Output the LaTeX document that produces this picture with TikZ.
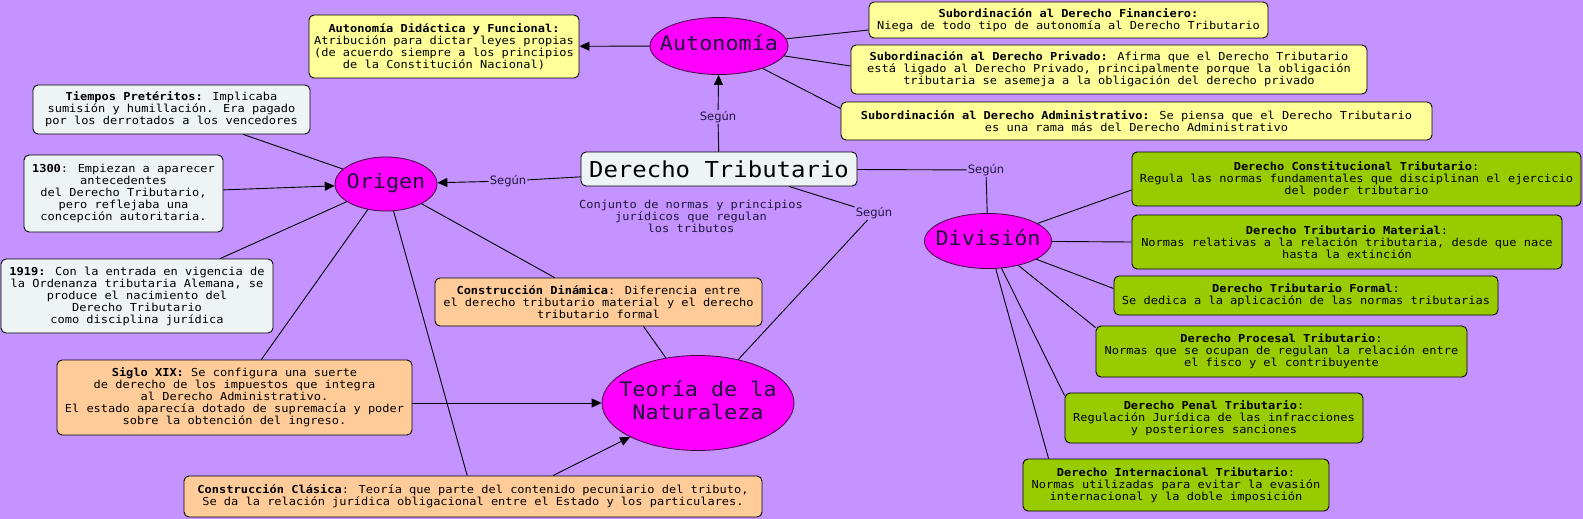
\documentclass[tikz,border=0pt]{standalone}
\usepackage{fontspec}
\setmainfont[FakeStretch=1.09]{DejaVu Sans Mono}
\newfontfamily\segfont{DejaVu Sans}
\usetikzlibrary{shapes.geometric,arrows.meta,calc}
\definecolor{bg}{RGB}{196,147,255}
\definecolor{mag}{RGB}{255,0,255}
\definecolor{yel}{RGB}{255,255,153}
\definecolor{pale}{RGB}{238,244,245}
\definecolor{ora}{RGB}{255,204,153}
\definecolor{grn}{RGB}{153,204,0}
\definecolor{ink}{RGB}{30,20,60}
\definecolor{edge}{RGB}{60,0,60}
\newcommand{\ztext}[1]{\makebox[0pt]{\begin{tabular}{@{}c@{}}#1\end{tabular}}}
\begin{document}
\begin{tikzpicture}[x=1pt,y=-1pt,
  box/.style={draw=black, line width=0.9pt, rounded corners=5pt, align=center,
    inner sep=2pt, font=\fontsize{11}{12}\selectfont, text=black},
  ybox/.style={box, fill=yel},
  pbox/.style={box, fill=pale},
  obox/.style={box, fill=ora},
  gbox/.style={box, fill=grn},
  concept/.style={ellipse, draw=edge, line width=0.8pt, fill=mag, inner sep=0pt,
    text=ink, font=\fontsize{20}{23}\selectfont},
  seg/.style={inner sep=1pt, text=ink, font=\segfont\fontsize{11.5}{12}\selectfont},
  link/.style={draw=black, line width=0.9pt},
  arr/.style={link, -{Triangle[length=10pt,width=9pt]}}
]
\fill[bg] (0,0) rectangle (1583,519);
\useasboundingbox (0,0) rectangle (1583,519);

% central
\node[box, fill=pale, font=\fontsize{22}{24}\selectfont, minimum width=276, minimum height=34] (dt) at (719,169) {Derecho Tributario};
\node[align=center, text=ink, font=\fontsize{11}{12}\selectfont] (conj) at (691,216) {Conjunto de normas y principios\\jurídicos que regulan\\los tributos};

% concepts
\node[concept, minimum width=138, minimum height=57] (aut) at (719,46) {\ztext{Autonomía}};
\node[concept, minimum width=102, minimum height=54] (ori) at (386,184) {\ztext{Origen}};
\node[concept, minimum width=192, minimum height=95] (teo) at (698,403) {\ztext{Teoría de la\\Naturaleza}};
\node[concept, minimum width=127, minimum height=55] (div) at (988,241) {\ztext{División}};

% Según labels
\node[seg] (saut) at (718,117) {Según};
\node[seg] (sori) at (508,181) {Según};
\node[seg] (sdiv) at (986,170) {Según};
\node[seg] (steo) at (874,213) {Según};

% Autonomía boxes
\node[ybox, minimum width=270, minimum height=63] (did) at (444,46.5) {\textbf{Autonomía Didáctica y Funcional:}\\Atribución para dictar leyes propias\\(de acuerdo siempre a los principios\\de la Constitución Nacional)};
\node[ybox, minimum width=399, minimum height=36] (fin) at (1068.5,20) {\textbf{Subordinación al Derecho Financiero:}\\Niega de todo tipo de autonomía al Derecho Tributario};
\node[ybox, minimum width=516, minimum height=49] (pri) at (1109,69.5) {\textbf{Subordinación al Derecho Privado:} Afirma que el Derecho Tributario\\está ligado al Derecho Privado, principalmente porque la obligación\\tributaria se asemeja a la obligación del derecho privado};
\node[ybox, minimum width=591, minimum height=38] (adm) at (1136.5,121) {\textbf{Subordinación al Derecho Administrativo:} Se piensa que el Derecho Tributario\\es una rama más del Derecho Administrativo};

% Origen boxes
\node[pbox, minimum width=277, minimum height=49] (tie) at (171.5,109.5) {\textbf{Tiempos Pretéritos:} Implicaba\\sumisión y humillación. Era pagado\\por los derrotados a los vencedores};
\node[pbox, minimum width=199, minimum height=77] (t1300) at (123.5,193.5) {\textbf{1300}: Empiezan a aparecer\\antecedentes\\del Derecho Tributario,\\pero reflejaba una\\concepción autoritaria.};
\node[pbox, minimum width=272, minimum height=74] (t1919) at (137,296) {\textbf{1919:} Con la entrada en vigencia de\\la Ordenanza tributaria Alemana, se\\produce el nacimiento del\\Derecho Tributario\\como disciplina jurídica};
\node[obox, minimum width=355, minimum height=75] (sig) at (234.5,397.5) {\textbf{Siglo XIX:} Se configura una suerte\\de derecho de los impuestos que integra\\al Derecho Administrativo.\\El estado aparecía dotado de supremacía y poder\\sobre la obtención del ingreso.};
\node[obox, minimum width=327, minimum height=48] (din) at (598.5,302) {\textbf{Construcción Dinámica}: Diferencia entre\\el derecho tributario material y el derecho\\tributario formal};
\node[obox, minimum width=578, minimum height=41] (cla) at (473,496.5) {\textbf{Construcción Clásica}: Teoría que parte del contenido pecuniario del tributo,\\Se da la relación jurídica obligacional entre el Estado y los particulares.};

% División boxes
\node[gbox, minimum width=449, minimum height=54] (con) at (1356.5,179) {\textbf{Derecho Constitucional Tributario}:\\Regula las normas fundamentales que disciplinan el ejercicio\\del poder tributario};
\node[gbox, minimum width=430, minimum height=54] (mat) at (1347,242) {\textbf{Derecho Tributario Material}:\\Normas relativas a la relación tributaria, desde que nace\\hasta la extinción};
\node[gbox, minimum width=384, minimum height=39] (for) at (1306,295.5) {\textbf{Derecho Tributario Formal}:\\Se dedica a la aplicación de las normas tributarias};
\node[gbox, minimum width=371, minimum height=51] (pro) at (1281.5,351.5) {\textbf{Derecho Procesal Tributario}:\\Normas que se ocupan de regulan la relación entre\\el fisco y el contribuyente};
\node[gbox, minimum width=298, minimum height=50] (pen) at (1214,418) {\textbf{Derecho Penal Tributario}:\\Regulación Jurídica de las infracciones\\y posteriores sanciones};
\node[gbox, minimum width=306, minimum height=52] (int) at (1176,485) {\textbf{Derecho Internacional Tributario}:\\Normas utilizadas para evitar la evasión\\internacional y la doble imposición};

% DT connections
\draw[link] (dt) -- (saut);
\draw[arr] (saut) -- (aut);
\draw[link] (dt) -- (sori);
\draw[arr] (sori) -- (ori);
\draw[link] (dt) -- (sdiv);
\draw[link] (sdiv) -- (div);
\draw[link] ([xshift=70pt]dt.south) -- (steo);
\draw[link] (steo) -- (teo);

% Autonomía connections
\draw[arr] (aut) -- (did);
\draw[link] (aut) -- ([yshift=-10pt]fin.west);
\draw[link] (aut) -- ([yshift=3.5pt]pri.west);
\draw[link] (aut) -- ([yshift=-7pt]adm.north west);

% Origen connections
\draw[link] (tie) -- (ori);
\draw[arr] (t1300) -- (ori);
\draw[link] (ori) -- (t1919);
\draw[link] (ori) -- (sig);
\draw[link] (ori) -- (din);
\draw[link] (ori) -- (cla);

% Teoría connections
\draw[arr] (sig.east |- teo.center) -- (teo);
\draw[arr] ([xshift=80pt]cla.north) -- (teo);
\draw[link] ([xshift=45pt]din.south) -- (teo);

% División connections
\draw[link] (div) -- ([yshift=-11pt]con.west);
\draw[link] (div) -- (mat.west);
\draw[link] (div) -- ([yshift=7pt]for.west);
\draw[link] (div) -- ([yshift=-2pt]pro.north west);
\draw[link] (div) -- ([yshift=-3pt]pen.north west);
\draw[link] (div) -- ([xshift=26pt]int.north west);
\end{tikzpicture}
\end{document}
